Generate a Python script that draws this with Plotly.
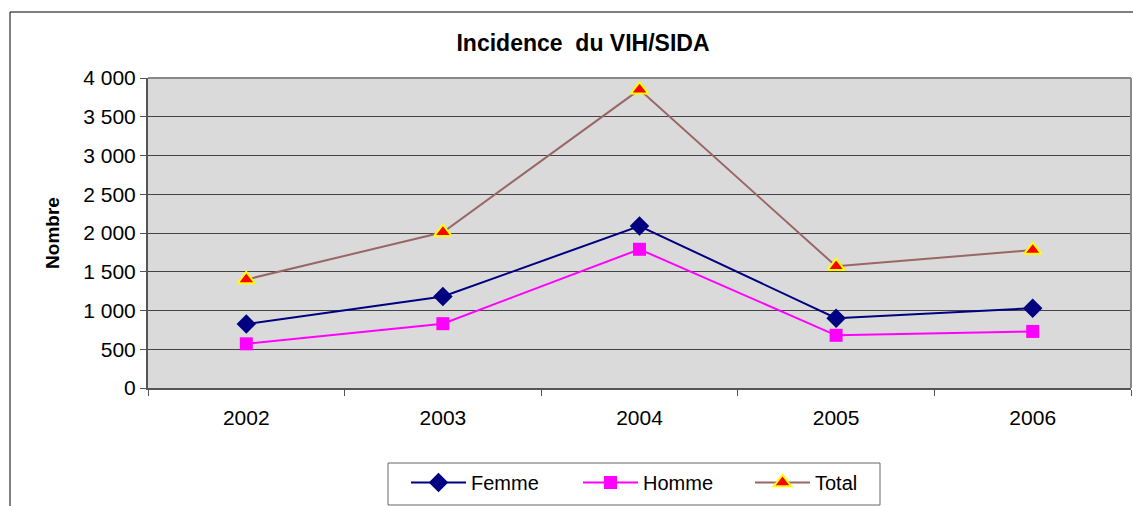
import plotly.graph_objects as go

years = ["2002", "2003", "2004", "2005", "2006"]
femme = [825, 1180, 2090, 900, 1030]
homme = [570, 830, 1790, 680, 730]
total = [1400, 2010, 3850, 1570, 1780]
y_ticks = [0, 500, 1000, 1500, 2000, 2500, 3000, 3500, 4000]

FONT = "Liberation Sans, Arial, sans-serif"

fig = go.Figure()
fig.add_trace(go.Scatter(
    x=years, y=femme, name="Femme", mode="lines+markers",
    line=dict(color="#000080", width=2),
    marker=dict(symbol="diamond", size=15, color="#000080"),
))
fig.add_trace(go.Scatter(
    x=years, y=homme, name="Homme", mode="lines+markers",
    line=dict(color="#FF00FF", width=2),
    marker=dict(symbol="square", size=13, color="#FF00FF"),
))
fig.add_trace(go.Scatter(
    x=years, y=total, name="Total", mode="lines+markers",
    line=dict(color="#996666", width=2),
    marker=dict(symbol="triangle-up", size=15, color="#FF0000",
                line=dict(color="#FFFF00", width=2)),
))

W, H = 1133, 506
L, R, T, B = 148, 2, 78, 118
PW, PH = W - L - R, H - T - B


def px_x(x):
    return (x - L) / PW


def px_y(y):
    return (H - B - y) / PH


fig.update_layout(
    width=W, height=H,
    autosize=False,
    margin=dict(l=L, r=R, t=T, b=B, autoexpand=False),
    paper_bgcolor="white",
    plot_bgcolor="#dadada",
    separators=", ",
    font=dict(family=FONT, size=21, color="black"),
    title=dict(text="<b>Incidence  du VIH/SIDA</b>", x=583 / W, xanchor="center",
               xref="container", y=1 - 43 / H, yanchor="middle",
               font=dict(family=FONT, size=23, color="black")),
    showlegend=True,
    legend=dict(
        orientation="h", x=px_x(406), xanchor="left",
        y=px_y(463), yanchor="top",
        borderwidth=0, bgcolor="rgba(0,0,0,0)",
        font=dict(family=FONT, size=20, color="black"),
        entrywidth=102, itemwidth=55, tracegroupgap=0,
    ),
    xaxis=dict(
        type="category", tickson="boundaries", ticks="outside", ticklen=6,
        tickcolor="#555555", showline=True, linecolor="#555555", linewidth=2,
        showgrid=False, tickfont=dict(size=21), range=[-0.5, 4.5],
        automargin=False, ticklabelstandoff=10,
    ),
    yaxis=dict(
        range=[0, 4000], tickvals=y_ticks, tickformat=",d",
        ticks="outside", ticklen=6, tickcolor="#555555",
        showline=True, linecolor="#555555", linewidth=2,
        showgrid=True, gridcolor="#444444", gridwidth=1,
        zeroline=False, tickfont=dict(size=21), automargin=False,
        title=dict(text="<b>Nombre</b>", font=dict(size=19), standoff=19),
    ),
    shapes=[
        dict(type="rect", xref="paper", yref="paper",
             x0=px_x(10), x1=1.05, y0=-0.6, y1=px_y(12),
             line=dict(color="black", width=1), fillcolor="rgba(0,0,0,0)",
             layer="below"),
        dict(type="rect", xref="paper", yref="paper",
             x0=px_x(388), x1=px_x(880), y0=px_y(505), y1=px_y(463),
             line=dict(color="#666666", width=1), fillcolor="white",
             layer="below"),
        dict(type="line", xref="paper", yref="paper", x0=0, x1=1, y0=1, y1=1,
             line=dict(color="#888888", width=2)),
        dict(type="line", xref="paper", yref="paper", x0=1, x1=1, y0=0, y1=1,
             line=dict(color="#888888", width=2)),
    ],
)

fig.write_html(
    "out.html",
    config={"displayModeBar": False},
    post_script="document.body.style.margin='0';document.body.style.overflow='hidden';",
)
